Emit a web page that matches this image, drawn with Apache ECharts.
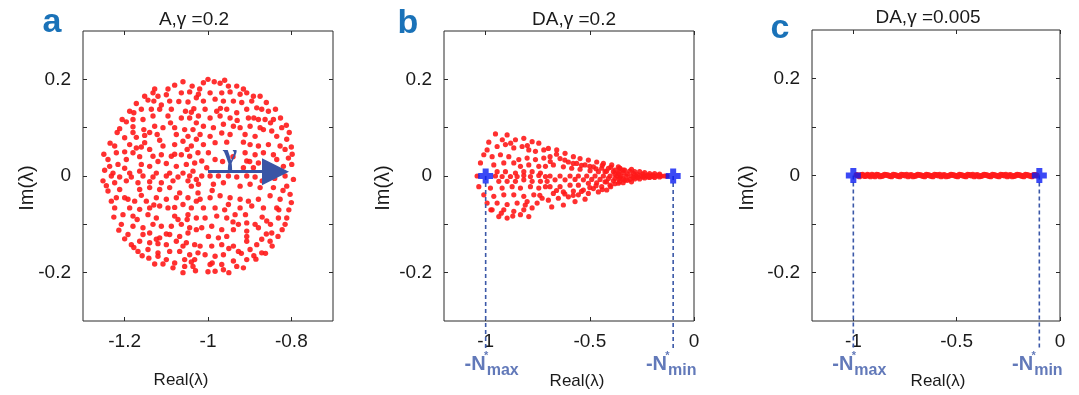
<!DOCTYPE html>
<html><head><meta charset="utf-8">
<script src="https://cdn.jsdelivr.net/npm/echarts@6/dist/echarts.min.js"></script>
<style>html,body{margin:0;padding:0;background:#fff}#c{width:1079px;height:395px}</style>
</head><body><div id="c"></div>
<script>
// ---------- data ----------
const titles = ['A,γ =0.2', 'DA,γ =0.2', 'DA,γ =0.005'];
const panelLetters = ['a', 'b', 'c'];
const xNames = ['Real(λ)', 'Real(λ)', 'Real(λ)'];
const yNames = ['Im(λ)', 'Im(λ)', 'Im(λ)'];
const xRangeA = [-1.3, -0.7];
const xRangeBC = [-1.2, 0];
const yRange = [-0.3, 0.3];
const xTicksA = [-1.2, -1, -0.8];
const xTicksBC = [-1, -0.5, 0];
const yTicks = [-0.2, -0.1, 0, 0.1, 0.2];
const yLabelVals = [-0.2, 0, 0.2];
const gammaArrow = [[-1.0, 0.009], [-0.838, 0.009]];
const gammaLabel = 'γ';
const nStarB = [-1, -0.1];   // -N*max, -N*min
const nStarC = [-1, -0.1];
const nStarLabels = [['-N', '*', 'max'], ['-N', '*', 'min']];

const ptsA = [
[-1.08,0.188],[-1.038,0.186],[-1.064,0.172],[-1.044,0.174],[-1.028,0.162],[-1.1,0.168],[-1.132,0.172],[-1.12,0.165],[-1.092,0.155],[-1.07,0.154],[-1.048,0.153],[-1.144,0.157],[-1.16,0.138],[-1.188,0.134],[-1.178,0.131],[-1.136,0.138],[-1.116,0.138],[-1.088,0.138],[-1.112,0.147],[-1.054,0.134],[-1.034,0.139],[-1.18,0.117],[-1.206,0.117],[-1.156,0.117],[-1.132,0.124],[-1.096,0.124],[-1.064,0.12],[-1.044,0.12],[-1.028,0.11],[-1.212,0.098],[-1.18,0.102],[-1.154,0.096],[-1.128,0.103],[-1.108,0.1],[-1.08,0.1],[-1.056,0.096],[-1.036,0.096],[-1.2,0.079],[-1.172,0.08],[-1.152,0.084],[-1.122,0.086],[-1.116,0.074],[-1.076,0.086],[-1.048,0.082],[-1.028,0.076],[-1.224,0.062],[-1.188,0.065],[-1.172,0.058],[-1.152,0.069],[-1.14,0.055],[-1.108,0.062],[-1.08,0.065],[-1.06,0.072],[-1.04,0.062],[-1.24,0.034],[-1.22,0.048],[-1.196,0.034],[-1.18,0.048],[-1.164,0.04],[-1.132,0.041],[-1.112,0.044],[-1.088,0.041],[-1.064,0.044],[-1.044,0.041],[-1.024,0.048],[-1.236,0.02],[-1.216,0.024],[-1.2,0.016],[-1.16,0.024],[-1.14,0.02],[-1.1,0.026],[-1.076,0.02],[-1.052,0.024],[-1.032,0.027],[-1.228,0.006],[-1.188,0.006],[-1.164,0.01],[-1.124,0.006],[-1.092,0.006],[-1.06,0.006],[-1.036,0.01],
[-1.011,0.193],[-0.985,0.195],[-0.971,0.192],[-0.951,0.186],[-0.931,0.186],[-1.023,0.169],[-0.995,0.172],[-0.967,0.172],[-0.947,0.174],[-0.923,0.169],[-0.907,0.172],[-0.891,0.165],[-1.011,0.155],[-0.983,0.159],[-0.963,0.155],[-0.939,0.155],[-0.919,0.152],[-0.895,0.155],[-0.871,0.138],[-0.855,0.134],[-1.007,0.138],[-0.979,0.134],[-0.955,0.138],[-0.931,0.131],[-0.907,0.138],[-0.883,0.141],[-1.023,0.124],[-0.995,0.12],[-0.971,0.124],[-0.947,0.12],[-0.903,0.12],[-0.879,0.117],[-0.843,0.117],[-0.863,0.117],[-1.011,0.103],[-0.987,0.1],[-0.963,0.107],[-0.939,0.103],[-0.923,0.1],[-0.899,0.103],[-0.867,0.096],[-0.847,0.093],[-0.823,0.1],[-1.019,0.086],[-0.995,0.082],[-0.967,0.089],[-0.947,0.086],[-0.911,0.086],[-0.887,0.082],[-0.835,0.082],[-0.811,0.076],[-1.011,0.065],[-0.983,0.069],[-0.899,0.065],[-0.879,0.062],[-0.855,0.065],[-0.827,0.062],[-0.999,0.048],[-0.911,0.048],[-0.887,0.044],[-0.867,0.048],[-0.843,0.044],[-0.815,0.055],[-1.015,0.031],[-0.983,0.034],[-0.907,0.031],[-0.879,0.027],[-0.835,0.034],[-0.807,0.037],[-1.003,0.017],[-0.915,0.017],[-0.891,0.017],[-0.819,0.02],[-0.799,0.024],
[-1.232,0.0],[-1.212,-0.002],[-1.184,-0.002],[-1.156,0.0],[-1.132,-0.002],[-1.1,0.0],[-1.072,-0.002],[-1.044,0.0],[-1.028,-0.007],[-1.252,-0.01],[-1.224,-0.014],[-1.196,-0.01],[-1.168,-0.014],[-1.14,-0.012],[-1.112,-0.014],[-1.084,-0.01],[-1.048,-0.01],[-1.24,-0.031],[-1.212,-0.028],[-1.164,-0.028],[-1.14,-0.024],[-1.116,-0.028],[-1.092,-0.024],[-1.068,-0.035],[-1.04,-0.021],[-1.024,-0.035],[-1.22,-0.045],[-1.192,-0.048],[-1.176,-0.052],[-1.148,-0.052],[-1.124,-0.045],[-1.1,-0.048],[-1.076,-0.045],[-1.048,-0.045],[-1.028,-0.052],[-1.224,-0.066],[-1.188,-0.066],[-1.164,-0.069],[-1.14,-0.066],[-1.116,-0.062],[-1.096,-0.066],[-1.06,-0.059],[-1.04,-0.066],[-1.204,-0.08],[-1.18,-0.083],[-1.144,-0.08],[-1.124,-0.087],[-1.08,-0.083],[-1.072,-0.09],[-1.048,-0.08],[-1.028,-0.087],[-1.208,-0.1],[-1.18,-0.104],[-1.156,-0.107],[-1.132,-0.1],[-1.112,-0.104],[-1.088,-0.104],[-1.064,-0.1],[-1.044,-0.107],[-1.192,-0.121],[-1.156,-0.121],[-1.14,-0.118],[-1.116,-0.128],[-1.092,-0.121],[-1.068,-0.125],[-1.048,-0.118],[-1.028,-0.111],[-1.184,-0.142],[-1.164,-0.135],[-1.14,-0.138],[-1.124,-0.131],[-1.1,-0.142],[-1.076,-0.135],[-1.052,-0.138],[-1.032,-0.142],[-1.168,-0.156],[-1.144,-0.152],[-1.12,-0.159],[-1.092,-0.156],[-1.068,-0.156],[-1.044,-0.163],[-1.024,-0.159],[-1.142,-0.17],[-1.12,-0.166],[-1.1,-0.173],[-1.08,-0.18],[-1.056,-0.173],[-1.032,-0.173],[-1.128,-0.182],[-1.108,-0.182],[-1.084,-0.19],[-1.056,-0.187],[-1.036,-0.187],
[-1.015,0.0],[-0.995,0.0],[-0.975,0.0],[-0.951,0.0],[-0.931,-0.002],[-0.907,0.0],[-0.887,-0.002],[-0.815,0.0],[-0.795,-0.007],[-1.023,-0.017],[-0.987,-0.017],[-0.963,-0.014],[-0.923,-0.021],[-0.899,-0.017],[-0.875,-0.024],[-0.843,-0.024],[-0.811,-0.021],[-1.019,-0.048],[-0.995,-0.045],[-0.971,-0.041],[-0.947,-0.045],[-0.923,-0.048],[-0.903,-0.052],[-0.879,-0.048],[-0.851,-0.041],[-0.827,-0.048],[-0.803,-0.038],[-1.011,-0.066],[-0.983,-0.066],[-0.951,-0.059],[-0.923,-0.066],[-0.895,-0.062],[-0.867,-0.066],[-0.835,-0.066],[-1.007,-0.087],[-0.979,-0.083],[-0.955,-0.087],[-0.935,-0.08],[-0.927,-0.1],[-0.907,-0.097],[-0.887,-0.1],[-0.859,-0.093],[-0.831,-0.087],[-0.811,-0.087],[-1.015,-0.107],[-0.991,-0.104],[-0.967,-0.111],[-0.939,-0.111],[-0.907,-0.114],[-0.879,-0.107],[-0.847,-0.118],[-0.822,-0.111],[-0.999,-0.125],[-0.975,-0.128],[-0.955,-0.125],[-0.907,-0.125],[-0.871,-0.131],[-0.851,-0.135],[-1.019,-0.145],[-0.991,-0.145],[-0.967,-0.142],[-0.939,-0.145],[-0.907,-0.135],[-0.883,-0.142],[-1.007,-0.163],[-0.983,-0.166],[-0.963,-0.163],[-0.927,-0.156],[-0.899,-0.152],[-0.871,-0.159],[-0.995,-0.183],[-0.967,-0.183],[-0.939,-0.176],[-0.907,-0.173],[-0.983,-0.197],[-0.963,-0.194],[-0.931,-0.187],
[-1.248,0.012],[-1.244,-0.02],[-1.25,0.045],[-1.235,0.068],[-1.232,-0.052],[-1.226,-0.085],[-1.218,0.09],[-1.214,-0.112],[-1.196,0.112],[-1.2,-0.13],[-1.172,0.15],[-1.178,-0.148],[-1.152,0.165],[-1.158,-0.165],[-1.128,0.18],[-1.06,0.195],[-1.0,0.2],[-0.96,0.198],[-0.915,0.18],[-0.875,0.165],[-0.86,0.152],[-0.838,0.138],[-0.826,0.12],[-0.812,0.105],[-0.805,0.09],[-0.8,0.06],[-0.798,0.045],[-0.8,-0.055],[-0.806,-0.07],[-0.815,-0.1],[-0.832,-0.125],[-0.846,-0.145],[-0.862,-0.16],[-0.885,-0.172],[-0.915,-0.19],[-0.95,-0.2],[-1.0,-0.198],[-1.03,-0.196],[-1.06,-0.2],
[-1.18,0.09],[-1.16,0.06],[-1.13,0.155],[-1.096,0.18],[-1.02,0.18],[-1.04,0.132],[-1.09,0.11],[-1.14,0.09],[-1.2,0.05],[-1.08,0.045],[-1.12,0.03],[-1.05,0.055],[-0.97,0.14],[-0.93,0.115],[-0.89,0.12],[-0.875,0.1],[-0.915,0.07],[-0.955,0.07],[-0.94,0.04],[-0.965,0.03],[-0.85,0.11],[-0.9,0.03],[-0.86,0.02],[-1.2,-0.045],[-1.16,-0.04],[-1.13,-0.06],[-1.08,-0.065],[-1.05,-0.09],[-1.1,-0.12],[-1.17,-0.09],[-1.06,-0.145],[-1.12,-0.14],[-0.99,-0.03],[-0.96,-0.07],[-0.94,-0.095],[-0.91,-0.08],[-0.87,-0.085],[-0.85,-0.1],[-0.95,-0.15],[-0.92,-0.16],[-0.89,-0.165],[-0.86,-0.12],[-0.83,-0.07],[-0.82,-0.03],[-0.84,-0.005],[-0.87,-0.01],[-0.99,-0.18],[-1.04,-0.178]
];

const ptsB = [
[-0.953,0.087],[-0.897,0.085],[-0.857,0.075],[-0.817,0.078],[-0.777,0.071],[-0.745,0.068],[-0.993,0.054],[-0.945,0.061],[-0.905,0.065],[-0.865,0.058],[-0.825,0.061],[-0.793,0.054],[-0.761,0.051],[-0.721,0.054],[-1.009,0.044],[-0.969,0.04],[-0.929,0.044],[-0.889,0.04],[-0.841,0.034],[-0.801,0.037],[-0.761,0.034],[-0.721,0.037],[-1.025,0.027],[-0.961,0.023],[-0.913,0.027],[-0.865,0.027],[-0.833,0.02],[-0.793,0.023],[-0.745,0.02],[-0.713,0.02],[-0.945,0.009],[-0.905,0.009],[-0.857,0.006],[-0.817,0.009],[-0.777,0.009],[-0.737,0.006],[-1.041,0.0],[-0.953,0.0],[-0.921,-0.001],[-0.881,-0.001],[-0.849,-0.001],[-0.817,0.001],[-0.785,-0.001],[-0.745,0.001],[-0.713,-0.001],[-0.937,-0.011],[-0.897,-0.011],[-0.857,-0.011],[-0.817,-0.008],[-0.777,-0.011],[-0.737,-0.011],[-0.705,-0.011],[-1.033,-0.022],[-0.977,-0.025],[-0.921,-0.025],[-0.873,-0.022],[-0.833,-0.025],[-0.785,-0.022],[-0.745,-0.025],[-0.713,-0.022],[-1.009,-0.039],[-0.961,-0.042],[-0.913,-0.039],[-0.865,-0.039],[-0.817,-0.042],[-0.769,-0.039],[-0.729,-0.046],[-0.993,-0.056],[-0.945,-0.056],[-0.897,-0.059],[-0.849,-0.056],[-0.801,-0.053],[-0.753,-0.056],[-0.969,-0.07],[-0.913,-0.07],[-0.865,-0.073],[-0.817,-0.07],[-0.777,-0.066],[-0.937,-0.084],[-0.897,-0.087],[-0.833,-0.08],[-0.793,-0.084],
[-0.699,0.057],[-0.659,0.054],[-0.619,0.047],[-0.579,0.04],[-0.547,0.036],[-0.507,0.033],[-0.467,0.029],[-0.435,0.026],[-0.395,0.023],[-0.363,0.019],[-0.691,0.04],[-0.643,0.036],[-0.603,0.029],[-0.563,0.026],[-0.523,0.023],[-0.483,0.019],[-0.443,0.016],[-0.411,0.016],[-0.379,0.012],[-0.355,0.016],[-0.675,0.023],[-0.627,0.019],[-0.587,0.016],[-0.547,0.014],[-0.499,0.011],[-0.459,0.009],[-0.427,0.009],[-0.387,0.009],[-0.363,0.005],[-0.691,0.0],[-0.643,0.0],[-0.595,0.0],[-0.555,0.0],[-0.515,0.0],[-0.475,0.0],[-0.435,0.0],[-0.403,0.0],[-0.371,0.0],[-0.667,-0.008],[-0.619,-0.008],[-0.571,-0.007],[-0.531,-0.008],[-0.491,-0.007],[-0.451,-0.007],[-0.411,-0.005],[-0.379,-0.005],[-0.355,-0.003],[-0.691,-0.022],[-0.643,-0.022],[-0.595,-0.019],[-0.555,-0.019],[-0.507,-0.015],[-0.467,-0.014],[-0.427,-0.012],[-0.387,-0.01],[-0.675,-0.036],[-0.627,-0.033],[-0.579,-0.031],[-0.531,-0.029],[-0.483,-0.026],[-0.443,-0.022],[-0.403,-0.019],[-0.363,-0.015],[-0.699,-0.05],[-0.651,-0.046],[-0.603,-0.043],[-0.555,-0.039],[-0.507,-0.036],[-0.459,-0.033],[-0.419,-0.029],[-0.683,-0.064],[-0.627,-0.06],[-0.571,-0.053],[-0.523,-0.048],
[-0.357,0.016],[-0.333,0.012],[-0.309,0.01],[-0.285,0.009],[-0.261,0.009],[-0.237,0.007],[-0.213,0.005],[-0.189,0.005],[-0.165,0.004],[-0.349,0.0],[-0.325,0.0],[-0.301,0.0],[-0.277,0.0],[-0.253,0.0],[-0.229,0.0],[-0.205,0.0],[-0.181,0.0],[-0.157,0.0],[-0.141,0.0],[-0.357,-0.012],[-0.333,-0.009],[-0.309,-0.007],[-0.285,-0.006],[-0.261,-0.006],[-0.237,-0.004],[-0.213,-0.003],[-0.189,-0.003],[-0.165,-0.002],[-0.34,0.007],[-0.29,0.005],[-0.245,0.004],[-0.197,0.002],[-0.34,-0.006],[-0.29,-0.003],[-0.245,-0.002],[-0.197,-0.001],
[-0.985,0.07],[-0.92,0.075],[-0.88,0.068],[-0.8,0.063],[-0.975,-0.07],[-0.925,-0.077],[-0.87,-0.083],[-0.81,-0.06],[-0.74,-0.04],[-0.69,0.03],[-0.66,0.045],[-0.62,0.033],[-0.58,0.026],[-0.54,0.022],[-0.5,0.02],[-0.47,0.015],[-0.44,0.022],[-0.42,0.01],[-0.4,0.018],[-0.38,0.004],[-0.36,0.009],[-0.34,0.012],[-0.32,0.004],[-0.3,0.014],[-0.66,-0.03],[-0.62,-0.037],[-0.58,-0.04],[-0.54,-0.032],[-0.5,-0.024],[-0.47,-0.02],[-0.44,-0.028],[-0.42,-0.012],[-0.4,-0.022],[-0.38,-0.016],[-0.36,-0.006],[-0.34,-0.014],[-0.32,-0.009],[-0.3,-0.012],[-0.27,0.003],[-0.27,-0.003],[-0.22,0.002],[-0.22,-0.002],[-0.17,0.002],[-0.13,0.0]
];

const ptsC = [
[-0.985,0.001],[-0.97,-0.002],[-0.955,0.002],[-0.94,-0.001],[-0.925,0.0],[-0.91,0.002],[-0.895,-0.002],[-0.88,0.001],[-0.862,-0.001],[-0.848,0.002],[-0.83,0.0],[-0.815,-0.002],[-0.8,0.001],[-0.783,-0.001],[-0.768,0.002],[-0.75,0.0],[-0.735,-0.002],[-0.72,0.001],[-0.703,-0.001],[-0.688,0.002],[-0.67,0.0],[-0.655,-0.002],[-0.64,0.001],[-0.622,-0.001],[-0.607,0.002],[-0.59,0.0],[-0.575,-0.002],[-0.56,0.001],[-0.542,-0.001],[-0.527,0.002],[-0.51,0.0],[-0.495,-0.002],[-0.48,0.001],[-0.462,-0.001],[-0.447,0.002],[-0.43,0.0],[-0.415,-0.002],[-0.4,0.001],[-0.382,-0.001],[-0.367,0.002],[-0.35,0.0],[-0.335,-0.002],[-0.32,0.001],[-0.302,-0.001],[-0.287,0.002],[-0.27,0.0],[-0.255,-0.002],[-0.24,0.001],[-0.222,-0.001],[-0.207,0.002],[-0.19,0.0],[-0.175,-0.002],[-0.16,0.001],[-0.142,-0.001],[-0.127,0.001],[-0.112,0.0],
[-0.977,0.0],[-0.962,0.001],[-0.947,-0.001],[-0.932,0.002],[-0.917,-0.002],[-0.902,0.0],[-0.887,0.002],[-0.871,-0.002],[-0.855,0.0],[-0.839,0.001],[-0.822,-0.001],[-0.807,0.002],[-0.791,0.0],[-0.775,-0.002],[-0.759,0.001],[-0.742,0.002],[-0.727,0.0],[-0.711,-0.002],[-0.695,0.0],[-0.679,0.001],[-0.662,-0.001],[-0.647,0.002],[-0.631,0.0],[-0.615,-0.002],[-0.598,0.001],[-0.582,0.002],[-0.567,0.0],[-0.551,-0.002],[-0.535,0.0],[-0.519,0.001],[-0.502,-0.001],[-0.487,0.002],[-0.471,0.0],[-0.455,-0.002],[-0.438,0.001],[-0.422,0.002],[-0.407,0.0],[-0.391,-0.002],[-0.375,0.0],[-0.359,0.001],[-0.342,-0.001],[-0.327,0.002],[-0.311,0.0],[-0.295,-0.002],[-0.278,0.001],[-0.262,0.002],[-0.247,0.0],[-0.231,-0.002],[-0.215,0.0],[-0.199,0.001],[-0.182,-0.001],[-0.167,0.002],[-0.151,0.0],[-0.135,-0.002],[-0.12,0.001]
];

// ---------- styles / layout ----------
const dashEnd = -0.36;
const RED = '#ff1a1a';
const MARK_BLUE = '#0a1cf2';
const DASH_BLUE = '#3b58a8';
const LETTER_BLUE = '#1a72b8';
const AXIS_COL = '#2a2a2a';
const FONT = 'Liberation Sans, Arial, Helvetica, sans-serif';
const grids = [
  {left: 83, top: 31, width: 250, height: 290},
  {left: 444, top: 31, width: 250, height: 290},
  {left: 812, top: 30, width: 248, height: 291}
];
const dotSizes = [5.4, 5.2, 5.8];
const plusPath = 'path://M3,0H7V3H10V7H7V10H3V7H0V3H3Z';

function fmt(v) { const r = Math.round(v * 100) / 100; return r === 0 ? '0' : String(r); }

const gridOpt = grids.map(g => Object.assign({show: true, borderColor: AXIS_COL, borderWidth: 1, backgroundColor: '#fff'}, g));

const xAxes = [], yAxes = [];
[xRangeA, xRangeBC, xRangeBC].forEach((rg, gi) => {
  const ticks = gi === 0 ? xTicksA : xTicksBC;
  [false, true].forEach(top => {
    xAxes.push({
      type: 'value', gridIndex: gi, min: rg[0], max: rg[1], position: top ? 'top' : 'bottom',
      axisLine: {show: false, onZero: false}, splitLine: {show: false},
      axisTick: {show: true, inside: true, length: 4, customValues: ticks, lineStyle: {color: AXIS_COL}},
      axisLabel: {show: !top, customValues: ticks, fontSize: 19, color: '#1a1a1a', margin: 11, fontFamily: FONT, formatter: fmt}
    });
  });
  [false, true].forEach(right => {
    yAxes.push({
      type: 'value', gridIndex: gi, min: yRange[0], max: yRange[1], position: right ? 'right' : 'left',
      axisLine: {show: false, onZero: false}, splitLine: {show: false},
      axisTick: {show: true, inside: true, length: 4, customValues: yTicks, lineStyle: {color: AXIS_COL}},
      axisLabel: {show: !right, customValues: yLabelVals, fontSize: 19, color: '#1a1a1a', margin: 12, fontFamily: FONT, formatter: fmt}
    });
  });
});

const series = [];
function dots(gi, data) {
  series.push({type: 'scatter', xAxisIndex: gi * 2, yAxisIndex: gi * 2, data: data, symbolSize: dotSizes[gi],
    itemStyle: {color: RED, opacity: 0.9}, silent: true, z: 2});
}
dots(0, ptsA); dots(1, ptsB); dots(2, ptsC);

// gamma arrow in panel a
series.push({type: 'line', xAxisIndex: 0, yAxisIndex: 0, data: [], silent: true,
  markLine: {silent: true, symbol: ['none', 'triangle'], symbolSize: 27, animation: false,
    lineStyle: {color: '#3a55a5', width: 3, type: 'solid'}, label: {show: false},
    data: [[{coord: gammaArrow[0]}, {coord: gammaArrow[1]}]]}, z: 4});

const labelOffsets = [[6, 0], [-2, 0]];
[nStarB, nStarC].forEach((ns, k) => {
  const gi = k + 1;
  ns.forEach((xv, j) => {
    series.push({type: 'line', xAxisIndex: gi * 2, yAxisIndex: gi * 2, clip: false, silent: true,
      data: [[xv, 0], [xv, dashEnd]], showSymbol: false, symbol: 'none',
      lineStyle: {color: DASH_BLUE, width: 1.6, type: [4, 3]}, z: 3});
    series.push({type: 'scatter', xAxisIndex: gi * 2, yAxisIndex: gi * 2, clip: false, silent: true,
      data: [[xv, dashEnd]], symbolSize: 1, itemStyle: {color: 'rgba(0,0,0,0)'},
      label: {show: true, position: 'bottom', distance: 0, offset: labelOffsets[j],
        formatter: '{n|' + nStarLabels[j][0] + '}{s|' + nStarLabels[j][1] + '}{m|' + nStarLabels[j][2] + '}',
        rich: {
          n: {fontSize: 20, fontWeight: 'bold', color: DASH_BLUE, fontFamily: FONT, lineHeight: 28, verticalAlign: 'middle'},
          s: {fontSize: 11, fontWeight: 'bold', color: DASH_BLUE, fontFamily: FONT, verticalAlign: 'top', width: 1},
          m: {fontSize: 16, fontWeight: 'bold', color: DASH_BLUE, fontFamily: FONT, verticalAlign: 'bottom'}
        }}, z: 5});
  });
  series.push({type: 'scatter', xAxisIndex: gi * 2, yAxisIndex: gi * 2, silent: true,
    data: ns.map(v => [v, 0]), symbol: plusPath, symbolSize: 15,
    itemStyle: {color: MARK_BLUE}, z: 6});
});

// ---------- text layout ----------
const titlePos = [[194, 20], [574, 20], [928, 18]];
const letterPos = [[52, 23], [408, 24], [780, 29]];
const yNamePos = [[27, 188], [383, 188], [747, 188]];
const xNamePos = [[181, 380], [577, 381], [938, 381]];
const graphic = [];
titles.forEach((t, i) => graphic.push({type: 'text', x: titlePos[i][0], y: titlePos[i][1], silent: true,
  style: {text: t, font: '19px ' + FONT, fill: '#1a1a1a', align: 'center', verticalAlign: 'middle'}}));
panelLetters.forEach((t, i) => graphic.push({type: 'text', x: letterPos[i][0], y: letterPos[i][1], silent: true,
  style: {text: t, font: 'bold 34px ' + FONT, fill: LETTER_BLUE, align: 'center', verticalAlign: 'middle'}}));
yNames.forEach((t, i) => graphic.push({type: 'text', x: yNamePos[i][0], y: yNamePos[i][1], rotation: Math.PI / 2, silent: true,
  style: {text: t, font: '20px ' + FONT, fill: '#1a1a1a', align: 'center', verticalAlign: 'middle'}}));
xNames.forEach((t, i) => graphic.push({type: 'text', x: xNamePos[i][0], y: xNamePos[i][1], silent: true,
  style: {text: t, font: '17px ' + FONT, fill: '#1a1a1a', align: 'center', verticalAlign: 'middle'}}));
graphic.push({type: 'text', x: 230, y: 156, silent: true, z: 10,
  style: {text: gammaLabel, font: 'bold 30px Liberation Serif, serif', fill: '#3a55a5', align: 'center', verticalAlign: 'middle'}});

const chart = echarts.init(document.getElementById('c'), null, {renderer: 'canvas'});
chart.setOption({
  animation: false,
  backgroundColor: '#fff',
  grid: gridOpt,
  xAxis: xAxes,
  yAxis: yAxes,
  series: series,
  graphic: graphic
});
</script>
</body></html>
